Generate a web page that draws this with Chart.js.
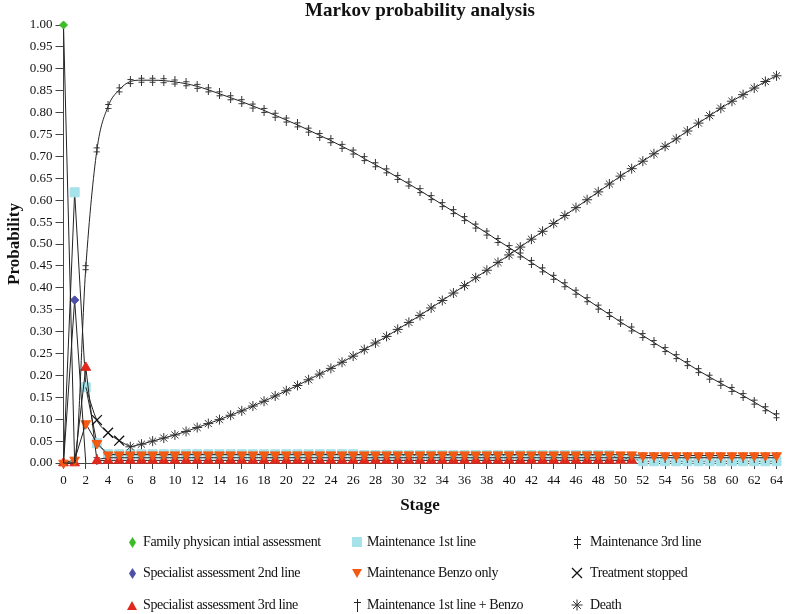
<!DOCTYPE html>
<html><head><meta charset="utf-8">
<script src="https://cdn.jsdelivr.net/npm/chart.js@4"></script>
<style>
html,body{margin:0;padding:0;background:#fff;}
#wrap{position:relative;width:787px;height:614px;overflow:hidden;}
#c{position:absolute;left:0;top:0;}
.lt{position:absolute;font-family:"Liberation Serif","Times New Roman",serif;font-size:14px;letter-spacing:-0.4px;color:#111;white-space:nowrap;line-height:16px;}
.lm{position:absolute;}
</style></head><body>
<div id="wrap"><canvas id="c" width="787" height="614"></canvas><div id="legend"></div></div>
<script>
// ---------------- data ----------------
const titleText = 'Markov probability analysis';
const xTitle = 'Stage';
const yTitle = 'Probability';

const stages = [
  0,1,2,3,4,5,6,7,8,9,
  10,11,12,13,14,15,16,17,18,19,
  20,21,22,23,24,25,26,27,28,29,
  30,31,32,33,34,35,36,37,38,39,
  40,41,42,43,44,45,46,47,48,49,
  50,51,52,53,54,55,56,57,58,59,
  60,61,62,63,64];

const familyInitial = [
  1.00,0.00,null,null,null,null,null,null,null,null,
  null,null,null,null,null,null,null,null,null,null,
  null,null,null,null,null,null,null,null,null,null,
  null,null,null,null,null,null,null,null,null,null,
  null,null,null,null,null,null,null,null,null,null,
  null,null,null,null,null,null,null,null,null,null,
  null,null,null,null,null];

const specialist2nd = [
  0.00,0.372,0.00,null,null,null,null,null,null,null,
  null,null,null,null,null,null,null,null,null,null,
  null,null,null,null,null,null,null,null,null,null,
  null,null,null,null,null,null,null,null,null,null,
  null,null,null,null,null,null,null,null,null,null,
  null,null,null,null,null,null,null,null,null,null,
  null,null,null,null,null];

const specialist3rd = [
  0.00,0.00,0.218,0.005,0.006,0.006,0.006,0.006,0.006,0.006,
  0.006,0.006,0.006,0.006,0.006,0.006,0.006,0.006,0.006,0.006,
  0.006,0.006,0.006,0.006,0.006,0.006,0.006,0.006,0.006,0.006,
  0.006,0.006,0.006,0.006,0.006,0.006,0.006,0.006,0.006,0.006,
  0.006,0.006,0.006,0.006,0.006,0.006,0.006,0.006,0.006,0.006,
  0.006,0.006,null,null,null,null,null,null,null,null,
  null,null,null,null,null];

const maint1st = [
  0.00,0.618,0.173,0.045,0.020,0.020,0.020,0.020,0.020,0.020,
  0.020,0.020,0.020,0.020,0.020,0.020,0.020,0.020,0.020,0.020,
  0.020,0.020,0.020,0.020,0.020,0.020,0.020,0.018,0.018,0.018,
  0.018,0.018,0.018,0.018,0.018,0.018,0.018,0.018,0.018,0.018,
  0.018,0.018,0.018,0.018,0.018,0.018,0.018,0.018,0.018,0.018,
  0.010,0.010,0.004,0.004,0.004,0.004,0.004,0.004,0.004,0.004,
  0.004,0.004,0.004,0.004,0.004];

const maintBenzo = [
  0.00,0.007,0.090,0.045,0.019,0.019,0.019,0.019,0.019,0.019,
  0.019,0.019,0.019,0.019,0.019,0.019,0.019,0.019,0.019,0.019,
  0.019,0.019,0.019,0.019,0.019,0.019,0.019,0.019,0.019,0.019,
  0.019,0.019,0.019,0.019,0.019,0.019,0.019,0.019,0.019,0.019,
  0.019,0.019,0.019,0.019,0.019,0.019,0.019,0.019,0.019,0.019,
  0.019,0.019,0.017,0.017,0.017,0.017,0.017,0.017,0.017,0.017,
  0.017,0.017,0.017,0.017,0.017];

const maint1stBenzo = [
  null,null,null,0.008,0.012,0.012,0.012,0.012,0.012,0.012,
  0.012,0.012,0.012,0.012,0.012,0.012,0.012,0.012,0.012,0.012,
  0.012,0.012,0.012,0.012,0.012,0.012,0.012,0.012,0.012,0.012,
  0.012,0.012,0.012,0.012,0.012,0.012,0.012,0.012,0.012,0.012,
  0.012,0.012,0.012,0.012,0.012,0.012,0.012,0.012,0.012,0.012,
  0.012,0.012,0.012,0.012,0.012,0.012,0.012,0.012,0.012,0.012,
  0.012,0.012,0.012,0.012,0.012];

const maint3rd = [
  0.00,0.00,0.446,0.715,0.814,0.852,0.871,0.874,0.874,0.873,
  0.870,0.866,0.860,0.852,0.843,0.834,0.825,0.815,0.805,0.794,
  0.783,0.772,0.760,0.748,0.736,0.723,0.710,0.695,0.681,0.667,
  0.652,0.637,0.622,0.606,0.590,0.574,0.558,0.541,0.525,0.508,
  0.492,0.475,0.458,0.441,0.424,0.407,0.390,0.373,0.356,0.339,
  0.322,0.306,0.291,0.275,0.259,0.243,0.227,0.211,0.196,0.182,
  0.168,0.154,0.139,0.124,0.108];

const treatmentStopped = [
  null,null,0.173,0.098,0.069,0.051,0.037,null,null,null,
  null,null,null,null,null,null,null,null,null,null,
  null,null,null,null,null,null,null,null,null,null,
  null,null,null,null,null,null,null,null,null,null,
  null,null,null,null,null,null,null,null,null,null,
  null,null,null,null,null,null,null,null,null,null,
  null,null,null,null,null];

const death = [
  null,null,null,null,null,null,0.037,0.043,0.050,0.057,
  0.064,0.072,0.081,0.090,0.099,0.109,0.119,0.130,0.141,0.153,
  0.165,0.177,0.190,0.203,0.216,0.230,0.244,0.259,0.274,0.289,
  0.305,0.321,0.337,0.354,0.371,0.388,0.405,0.423,0.440,0.458,
  0.475,0.493,0.511,0.529,0.547,0.565,0.583,0.601,0.619,0.637,
  0.655,0.672,0.689,0.706,0.723,0.740,0.758,0.776,0.793,0.810,
  0.826,0.841,0.856,0.871,0.884];

const seriesNames = ['Family physican intial assessment','Specialist assessment 2nd line','Specialist assessment 3rd line',
  'Maintenance 1st line','Maintenance Benzo only','Maintenance 1st line + Benzo',
  'Maintenance 3rd line','Treatment stopped','Death'];

const yTickValues = [0,0.05,0.10,0.15,0.20,0.25,0.30,0.35,0.40,0.45,0.50,0.55,0.60,0.65,0.70,0.75,0.80,0.85,0.90,0.95,1.00];

// ---------------- styles ----------------
const FONT = '"Liberation Serif", "Times New Roman", serif';
const LINE = '#222';
const C_GREEN = '#3bbb24', C_BLUE = '#4d4fa8', C_RED = '#e0281c', C_LBLUE = '#a6e2ea', C_ORANGE = '#f25a14';

function daggerCanvas(double){
  const c = document.createElement('canvas'); c.width = 7; c.height = 11;
  const g = c.getContext('2d'); g.strokeStyle = '#333'; g.lineWidth = 1;
  g.beginPath(); g.moveTo(3.5,0); g.lineTo(3.5,11);
  g.moveTo(0.5,3.5); g.lineTo(6.5,3.5);
  if (double){ g.moveTo(0.5,7.5); g.lineTo(6.5,7.5); }
  g.stroke(); return c;
}
const dagger1 = daggerCanvas(false), dagger2 = daggerCanvas(true);

const pts = arr => stages.map((s,i) => ({x: s, y: arr[i]}));
const hideZero = r => ctx => (ctx.raw && ctx.raw.y === 0) ? 0 : r;
const innerOnly = (arr, r) => ctx => {
  const idx = arr.map((v,i)=>v===null?-1:i).filter(i=>i>=0);
  return (ctx.dataIndex === idx[0] || ctx.dataIndex === idx[idx.length-1]) ? 0 : r;
};

function ds(label, arr, o){
  return Object.assign({label, data: pts(arr), borderColor: LINE, borderWidth: 1, tension: 0,
    spanGaps: false, clip: false, pointBorderWidth: 1}, o);
}

const datasets = [
  ds(seriesNames[3], maint1st, {order: 9, pointStyle: 'rect', pointRadius: hideZero(6.4),
      pointBackgroundColor: C_LBLUE, pointBorderColor: C_LBLUE}),
  ds(seriesNames[5], maint1stBenzo, {order: 8, pointStyle: dagger1, pointRadius: 4}),
  ds(seriesNames[2], specialist3rd, {order: 7, pointStyle: 'triangle', pointRadius: 5.6,
      pointBackgroundColor: C_RED, pointBorderColor: C_RED}),
  ds(seriesNames[4], maintBenzo, {order: 6, pointStyle: 'triangle', pointRotation: 180, pointRadius: 5.6,
      pointBackgroundColor: C_ORANGE, pointBorderColor: C_ORANGE}),
  ds(seriesNames[8], death, {order: 5, cubicInterpolationMode: 'monotone', pointStyle: 'star', pointRadius: 5,
      pointBorderColor: '#333', pointBackgroundColor: '#333'}),
  ds(seriesNames[6], maint3rd, {order: 4, cubicInterpolationMode: 'monotone', pointStyle: dagger2,
      pointRadius: hideZero(4)}),
  ds(seriesNames[7], treatmentStopped, {order: 3, cubicInterpolationMode: 'monotone', pointStyle: 'crossRot',
      pointRadius: innerOnly(treatmentStopped, 7), pointBorderColor: '#111', pointBorderWidth: 1.3}),
  ds(seriesNames[1], specialist2nd, {order: 2, pointStyle: 'rectRot', pointRadius: hideZero(4.2),
      pointBackgroundColor: C_BLUE, pointBorderColor: C_BLUE}),
  ds(seriesNames[0], familyInitial, {order: 1, pointStyle: 'rectRot', pointRadius: hideZero(4),
      pointBackgroundColor: C_GREEN, pointBorderColor: C_GREEN}),
];

const titlePlugin = {
  id: 'ttl',
  afterDraw(chart){
    const {ctx, chartArea: a} = chart;
    ctx.save(); ctx.font = 'bold 19px ' + FONT; ctx.fillStyle = '#111';
    ctx.textAlign = 'center'; ctx.textBaseline = 'alphabetic';
    ctx.fillText(titleText, (a.left + a.right) / 2, 16);
    ctx.restore();
  }
};

Chart.defaults.font.family = FONT;
new Chart(document.getElementById('c'), {
  type: 'line',
  data: {datasets},
  options: {
    responsive: false, animation: false, events: [],
    layout: {padding: {left: 0, right: 10, top: 25, bottom: 94}},
    plugins: {legend: {display: false}, tooltip: {enabled: false}},
    scales: {
      x: {type: 'linear', min: 0, max: 64,
        ticks: {stepSize: 2, autoSkip: false, maxRotation: 0, maxTicksLimit: 40, padding: 4, color: '#111',
          font: {size: 13}},
        grid: {drawOnChartArea: false, drawTicks: true, tickLength: 6, color: '#444'},
        border: {color: '#444', width: 1},
        title: {display: true, text: xTitle, color: '#111', font: {size: 17, weight: 'bold'}, padding: {top: 4, bottom: 4}},
        afterFit: s => { s.height = 57; }
      },
      y: {min: 0, max: 1,
        afterBuildTicks: s => { s.ticks = yTickValues.map(v => ({value: v})); },
        ticks: {autoSkip: false, padding: 3, color: '#111', font: {size: 13}, callback: v => Number(v).toFixed(2)},
        grid: {drawOnChartArea: false, drawTicks: true, tickLength: 8, color: '#444'},
        border: {color: '#444', width: 1},
        title: {display: true, text: yTitle, color: '#111', font: {size: 17, weight: 'bold'}, padding: {top: 4, bottom: 4}},
        afterFit: s => { s.width = 63.5; }
      }
    }
  },
  plugins: [titlePlugin]
});

// ---------------- legend (HTML) ----------------
const legendCols = [[132,143],[357,367],[577,590]];
const legendRows = [542,573,605];
const legendOrder = [[0,3,6],[1,4,7],[2,5,8]];
const markerSvg = {
  0: `<svg width="7" height="11"><polygon points="3.5,0 7,5.5 3.5,11 0,5.5" fill="${C_GREEN}"/></svg>`,
  1: `<svg width="7" height="11"><polygon points="3.5,0 7,5.5 3.5,11 0,5.5" fill="${C_BLUE}"/></svg>`,
  2: `<svg width="10" height="9"><polygon points="5,0 10,9 0,9" fill="${C_RED}"/></svg>`,
  3: `<svg width="10" height="10"><rect x="0" y="0" width="10" height="10" fill="${C_LBLUE}"/></svg>`,
  4: `<svg width="10" height="9"><polygon points="0,0 10,0 5,9" fill="${C_ORANGE}"/></svg>`,
  5: `<svg width="9" height="13"><path d="M4.5 0V13M1 3.5H8" stroke="#222" stroke-width="1"/></svg>`,
  6: `<svg width="9" height="13"><path d="M4.5 0V13M1 3.5H8M1 8.5H8" stroke="#222" stroke-width="1"/></svg>`,
  7: `<svg width="12" height="12"><path d="M1 1L11 11M11 1L1 11" stroke="#111" stroke-width="1.3"/></svg>`,
  8: `<svg width="12" height="12"><path d="M6 0.5V11.5M0.5 6H11.5M2.1 2.1L9.9 9.9M9.9 2.1L2.1 9.9" stroke="#333" stroke-width="1"/></svg>`
};
const legendEl = document.getElementById('legend');
legendOrder.forEach((row, r) => row.forEach((si, c) => {
  const [mx, tx] = legendCols[c]; const y = legendRows[r];
  const m = document.createElement('div'); m.className = 'lm'; m.innerHTML = markerSvg[si];
  legendEl.appendChild(m);
  const svg = m.firstChild; const w = +svg.getAttribute('width'), h = +svg.getAttribute('height');
  m.style.left = (mx - w/2) + 'px'; m.style.top = (y - h/2) + 'px'; m.style.lineHeight = '0';
  const t = document.createElement('div'); t.className = 'lt'; t.textContent = seriesNames[si];
  t.style.left = tx + 'px'; t.style.top = (y - 8) + 'px';
  legendEl.appendChild(t);
}));
</script>
</body></html>
